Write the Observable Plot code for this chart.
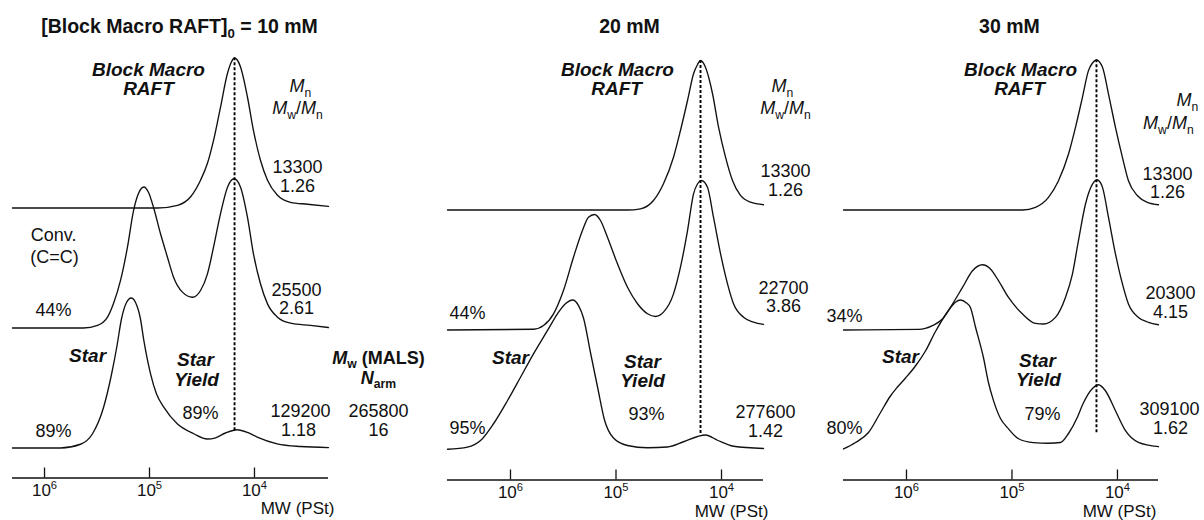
<!DOCTYPE html>
<html><head><meta charset="utf-8">
<script src="https://cdn.jsdelivr.net/npm/d3@7"></script>
<script src="https://cdn.jsdelivr.net/npm/@observablehq/plot@0.6"></script>
<style>
body{margin:0;background:#fff;}
#chart{position:relative;width:1204px;height:520px;overflow:hidden;background:#fff;}
#chart svg{position:absolute;top:0;}
</style></head><body><div id="chart"></div>
<script>
// ---------- data: [log10 MW, RI intensity (macro peak = 100)] ----------
const macro10 = [[6.305,0],[4.924,0],[4.733,1.8],[4.610,7.3],[4.514,18.5],[4.448,29.8],[4.390,45.1],[4.324,67.1],[4.257,89.8],[4.219,97.5],[4.190,100],[4.162,98.5],[4.133,94],[4.067,74],[4.010,51.8],[3.943,31.8],[3.876,18.5],[3.781,8.5],[3.657,3.8],[3.495,2.5],[3.295,1.1]];
const mix10 = [[6.305,0],[5.629,0],[5.495,1.7],[5.400,7.2],[5.343,16.3],[5.276,31.7],[5.210,53.9],[5.152,78.3],[5.105,89.7],[5.054,94],[5.010,90.5],[4.962,80.5],[4.895,62.8],[4.829,47.2],[4.771,33.9],[4.686,23.9],[4.590,20.5],[4.514,25],[4.448,36.1],[4.390,53.9],[4.324,76.1],[4.257,93.9],[4.195,99.5],[4.133,93.9],[4.067,73.9],[4.010,49.5],[3.943,29.5],[3.876,16.1],[3.781,7.2],[3.657,3.2],[3.467,1.7],[3.295,0.3]];
const star10 = [[6.305,0],[5.848,0],[5.657,2.5],[5.543,9.5],[5.438,27],[5.362,49],[5.310,68],[5.267,86],[5.219,97],[5.174,100],[5.133,97],[5.086,86],[5.054,71.7],[4.990,49.4],[4.933,36],[4.864,27.2],[4.736,16.1],[4.578,9.5],[4.450,6],[4.371,6.8],[4.276,10],[4.165,12.2],[4.060,10.2],[3.974,7.3],[3.784,2.8],[3.562,1],[3.295,0.3]];

const macro20 = [[6.597,0],[4.891,0],[4.768,0.8],[4.645,6.3],[4.550,17.5],[4.455,35.2],[4.389,53],[4.322,73],[4.265,90.8],[4.227,97],[4.199,99.7],[4.152,95.2],[4.085,77.5],[4.028,55.2],[3.962,35.2],[3.896,19.7],[3.820,9.7],[3.725,5.2],[3.602,3.5]];
const mix20 = [[6.597,0],[5.782,0.5],[5.687,3],[5.592,10.8],[5.498,26.3],[5.403,48.5],[5.318,66.3],[5.261,75.2],[5.204,77],[5.147,73],[5.081,61.9],[4.986,44.1],[4.891,28.5],[4.796,17.5],[4.701,10.8],[4.626,9],[4.550,11.9],[4.455,24.1],[4.389,41.9],[4.322,66.3],[4.265,90.8],[4.227,97.5],[4.190,99.7],[4.133,95.2],[4.076,75.2],[4.009,50.8],[3.943,30.8],[3.886,17.5],[3.791,8.5],[3.697,5.2],[3.602,3.7]];
const star20 = [[6.597,0.5],[6.408,1.9],[6.284,6.3],[6.161,17.5],[6.028,33],[5.905,48.5],[5.782,64.1],[5.649,79.7],[5.555,90.8],[5.479,97.5],[5.412,100],[5.355,96.3],[5.308,88],[5.242,65],[5.175,42],[5.109,20],[5.024,8],[4.891,3],[4.701,1.5],[4.512,2],[4.360,5.5],[4.227,9],[4.152,10],[4.038,6.5],[3.886,2.5],[3.602,1]];

const macro30 = [[6.597,0],[4.900,0],[4.777,1.8],[4.654,8.4],[4.559,19.5],[4.464,37.3],[4.398,55.1],[4.332,75.1],[4.275,92.9],[4.237,98],[4.199,100],[4.142,95.1],[4.085,77.3],[4.019,55.1],[3.953,35.1],[3.896,19.5],[3.810,9.5],[3.716,5.1],[3.611,3.5]];
const mix30 = [[6.597,0],[5.886,0.4],[5.754,2.9],[5.659,7.3],[5.564,17.3],[5.469,28.4],[5.374,39.5],[5.280,43.5],[5.204,40.7],[5.128,32.9],[5.033,21.7],[4.900,10.7],[4.777,4.4],[4.701,4],[4.588,8.4],[4.493,21.7],[4.427,37.3],[4.370,59.5],[4.303,84],[4.237,97.3],[4.190,100],[4.142,95.1],[4.085,75.1],[4.019,50.7],[3.953,30.7],[3.896,17.3],[3.801,8.4],[3.706,5.1],[3.611,3.5]];
const star30 = [[6.597,0.7],[6.483,5],[6.360,11.7],[6.246,25],[6.152,36],[6.085,42],[6.009,48],[5.915,56],[5.820,66],[5.725,79],[5.602,93],[5.536,98.5],[5.488,100],[5.431,98],[5.393,94.9],[5.346,82],[5.270,61.5],[5.223,45],[5.175,32.9],[5.109,21],[5.043,14.9],[4.938,7.5],[4.796,4.9],[4.654,4.5],[4.540,5],[4.464,11],[4.379,22],[4.332,30],[4.237,41],[4.180,43.5],[4.114,39.5],[4.019,26.2],[3.924,12.9],[3.801,5.1],[3.611,2.2]];

const concentrations = [10, 20, 30];
const macroMn = [13300, 13300, 13300];
const macroPDI = [1.26, 1.26, 1.26];
const mixMn = [25500, 22700, 20300];
const mixPDI = [2.61, 3.86, 4.15];
const vinylConv = [44, 44, 34];
const starConv = [89, 95, 80];
const starMn = [129200, 277600, 309100];
const starPDI = [1.18, 1.42, 1.62];
const starYield = [89, 93, 79];
const malsMw = 265800;
const armNumber = 16;
const xTicks = [1e6, 1e5, 1e4];

// ---------- layout ----------
const macroTraces = [macro10, macro20, macro30];
const mixTraces = [mix10, mix20, mix30];
const starTraces = [star10, star20, star30];
const offsets = {macro: 160, mix: 80, star: 0};
const panelLayout = [
  {left: 0, width: 400, marginLeft: 12, marginRight: 72, axisPx: 477.5, logDomain: [6.305, 3.295], dashBottom: 11.5},
  {left: 400, width: 400, marginLeft: 47, marginRight: 37, axisPx: 479.5, logDomain: [6.597, 3.602], dashBottom: 11},
  {left: 800, width: 404, marginLeft: 43, marginRight: 46, axisPx: 479.5, logDomain: [6.597, 3.611], dashBottom: 11.5}
];
const labelPos = [
 {title:[4.714,280.7], bm1:[5.010,251.9], bm2:[5.010,239.1], mnH:[3.562,241], pdiH:[3.590,226.3], macroMn:[3.590,187], macroPDI:[3.590,174.3], convPct:[5.914,91.7], mixMn:[3.600,105], mixPDI:[3.600,93], star:[5.590,61.7], sy1:[4.562,58.7], sy2:[4.552,45.5], yieldPct:[4.514,23], starConv:[5.914,11], starMn:[3.562,24.3], starPDI:[3.581,12], xlab:[3.590,-40.3], conv1:[5.914,141.7], conv2:[5.905,127], malsH:[2.819,59.9], narmH:[2.819,46.8], mals:[2.819,24.3], narm:[2.819,12]},
 {title:[4.872,282], bm1:[4.986,253.2], bm2:[4.995,240.5], mnH:[3.422,242.3], pdiH:[3.393,227.7], macroMn:[3.393,185.7], macroPDI:[3.393,173.4], convPct:[6.408,91], mixMn:[3.412,107.7], mixPDI:[3.412,96], star:[6.0,61.7], sy1:[4.749,58.8], sy2:[4.749,45.8], yieldPct:[4.711,23.7], starConv:[6.408,14.3], starMn:[3.583,25], starPDI:[3.583,12.8], xlab:[3.905,-41]},
 {title:[5.024,282], bm1:[4.919,253.2], bm2:[4.929,240.5], mnH:[3.336,232.9], pdiH:[3.517,217.8], macroMn:[3.526,184], macroPDI:[3.526,172], convPct:[6.588,89], mixMn:[3.498,104.3], mixPDI:[3.498,92], star:[6.057,62.3], sy1:[4.758,59.5], sy2:[4.749,46.5], yieldPct:[4.711,23.7], starConv:[6.588,14.3], starMn:[3.507,27], starPDI:[3.498,14.8], xlab:[3.981,-41]}
];
const FONT = '"Liberation Sans", Arial, Helvetica, sans-serif';
const INK = "#111";

function richify(svg) {
  d3.select(svg).selectAll("text").each(function() {
    const el = this;
    if (el.querySelector("tspan")) return;
    const s = el.textContent;
    if (!s.includes("<")) return;
    const fs = parseFloat(getComputedStyle(el).fontSize);
    el.textContent = "";
    const re = /<(i|sub|sup)>(.*?)<\/\1>|([^<]+)/g;
    let m, shift = 0;
    while ((m = re.exec(s))) {
      const ts = document.createElementNS("http://www.w3.org/2000/svg", "tspan");
      let target = 0;
      if (m[1]) {
        ts.textContent = m[2];
        if (m[1] === "i") ts.setAttribute("font-style", "italic");
        if (m[1] === "sub") { ts.setAttribute("font-size", (fs * 0.68).toFixed(1)); ts.setAttribute("font-style", "normal"); target = fs * 0.25; }
        if (m[1] === "sup") { ts.setAttribute("font-size", (fs * 0.66).toFixed(1)); target = -fs * 0.42; }
      } else ts.textContent = m[3];
      if (target !== shift) { ts.setAttribute("dy", (target - shift).toFixed(2)); shift = target; }
      el.appendChild(ts);
    }
  });
}

function buildPanel(i) {
  const L = panelLayout[i], P = labelPos[i];
  const traces = [["macro", macroTraces[i]], ["mix", mixTraces[i]], ["star", starTraces[i]]];
  const rows = traces.flatMap(([k, pts]) => pts.map(([lg, v]) => ({trace: k, mw: 10 ** lg, v: offsets[k] + v})));
  const peak = d3.greatest(macroTraces[i], d => d[1]);
  const lab = (key, t, kind = "n") => ({t, kind, mw: 10 ** P[key][0], v: P[key][1]});
  const labels = [
    lab("title", i === 0 ? `[Block Macro RAFT]<sub>0</sub> = ${concentrations[i]} mM` : `${concentrations[i]} mM`, "title"),
    lab("bm1", "Block Macro", "bi"), lab("bm2", "RAFT", "bi"),
    lab("mnH", "<i>M</i><sub>n</sub>"), lab("pdiH", "<i>M</i><sub>w</sub>/<i>M</i><sub>n</sub>"),
    lab("macroMn", String(macroMn[i])), lab("macroPDI", macroPDI[i].toFixed(2)),
    lab("convPct", `${vinylConv[i]}%`),
    lab("mixMn", String(mixMn[i])), lab("mixPDI", mixPDI[i].toFixed(2)),
    lab("star", "Star", "bi"), lab("sy1", "Star", "bi"), lab("sy2", "Yield", "bi"),
    lab("yieldPct", `${starYield[i]}%`), lab("starConv", `${starConv[i]}%`),
    lab("starMn", String(starMn[i])), lab("starPDI", starPDI[i].toFixed(2)),
    lab("xlab", "MW (PSt)", "axis")
  ];
  if (i === 0) labels.push(
    lab("conv1", "Conv."), lab("conv2", "(C=C)"),
    lab("malsH", "<i>M</i><sub>w</sub> (MALS)", "b"), lab("narmH", "<i>N</i><sub>arm</sub>", "b"),
    lab("mals", String(malsMw)), lab("narm", String(armNumber)));
  const kind = k => labels.filter(d => d.kind === k);
  const tOpt = {x: "mw", y: "v", text: "t", fill: INK};
  const svg = Plot.plot({
    width: L.width, height: 520,
    marginLeft: L.marginLeft, marginRight: L.marginRight, marginTop: 0, marginBottom: 520 - L.axisPx,
    x: {type: "log", domain: [10 ** L.logDomain[0], 10 ** L.logDomain[1]], label: null},
    y: {domain: [-20, 300], range: [L.axisPx, L.axisPx - 480], axis: null},
    style: {fontFamily: FONT, fontSize: "18px", overflow: "visible", background: "transparent", color: INK},
    marks: [
      Plot.ruleY([-20], {stroke: INK, strokeWidth: 1.3}),
      Plot.axisX({ticks: xTicks, tickSize: -10, tickFormat: () => "", label: null, strokeWidth: 1.3}),
      Plot.axisX({ticks: xTicks, tickSize: 0, tickPadding: 6, label: null, fontSize: 17,
        tickFormat: d => `10<sup>${Math.round(Math.log10(d))}</sup>`}),
      Plot.line(rows, {x: "mw", y: "v", z: "trace", curve: "monotone-x", stroke: INK, strokeWidth: 1.35}),
      Plot.ruleX([peak], {x: d => 10 ** d[0], y1: L.dashBottom, y2: d => offsets.macro + d[1], stroke: "#000", strokeWidth: 1.9, strokeDasharray: "3,2"}),
      Plot.text(kind("n"), {...tOpt, fontSize: 18}),
      Plot.text(kind("bi"), {...tOpt, fontSize: 19, fontWeight: "bold", fontStyle: "italic"}),
      Plot.text(kind("b"), {...tOpt, fontSize: 18, fontWeight: "bold"}),
      Plot.text(kind("title"), {...tOpt, fontSize: 19.5, fontWeight: "bold"}),
      Plot.text(kind("axis"), {...tOpt, fontSize: 17})
    ]
  });
  svg.style.left = L.left + "px";
  svg.style.position = "absolute";
  svg.style.top = "0px";
  document.getElementById("chart").appendChild(svg);
  richify(svg);
}
[0, 1, 2].forEach(buildPanel);
</script></body></html>
